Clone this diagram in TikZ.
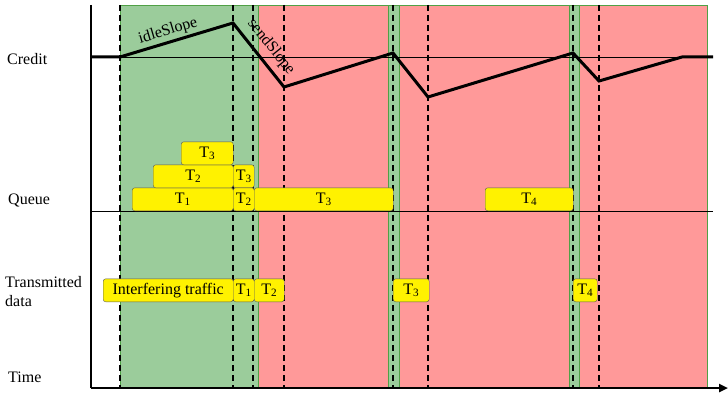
\documentclass[tikz,border=0pt]{standalone}
\usepackage{xcolor}
\usepackage{fontspec}
\setmainfont{Liberation Serif}
\usetikzlibrary{
    arrows.meta
}
\definecolor{idlegreen}{RGB}{155,204,155}
\definecolor{sendred}{RGB}{255,153,153}
\definecolor{winedge}{RGB}{80,160,70}
\tikzset{
    pkt/.style={draw=black!65,fill=yellow,rounded corners=2.5pt,anchor=south west,
        inner sep=0pt,minimum height=23pt},
    idlewin/.style={fill=idlegreen,draw=winedge,line width=0.8pt},
    sendwin/.style={fill=sendred,draw=winedge,line width=0.8pt},
    tick/.style={line width=2.3pt,dash pattern=on 6pt off 4pt},
    lbl/.style={anchor=base west,inner sep=0pt}
}

\begin{document}
\begin{tikzpicture}[x=1pt,y=-1pt,font=\fontsize{16}{19}\selectfont]
        \useasboundingbox (0,0) rectangle (728,396);

        \draw[idlewin] (120,5) rectangle (258,388);
        \draw[sendwin] (258,5) rectangle (388,388);
        \draw[idlewin] (388,5) rectangle (399,388);
        \draw[sendwin] (399,5) rectangle (569,388);
        \draw[idlewin] (569,5) rectangle (579,388);
        \draw[sendwin] (579,5) rectangle (707,388);

        \draw[thin] (91,57) -- (713,57);
        \draw[thin] (91,211) -- (713,211);

        \foreach \x in {120,233,253,284,393,428,573,599}
            \draw[tick] (\x,5) -- (\x,388);

        % credit
        \draw[line width=3pt] (91,57) -- (120,57) -- (233,23) -- (284,87) -- (393,53)
            -- (428,97) -- (573,53) -- (599,81) -- (682,57) -- (713,57);
        \draw (168,31) node[rotate=16.5](idle){idleSlope};
        \draw (271,47) node[rotate=-51](send){sendSlope};

        \draw (7,64)  node[lbl](credit){Credit};
        \draw (8,204) node[lbl](queue){Queue};
        \draw (5,292) node[anchor=west,inner sep=0pt,align=left](txd){Transmitted\\data};
        \draw (8,382) node[lbl](time){Time};

        % queue
        \draw (132,211) node[pkt,minimum width=101pt](qa){T\textsubscript{1}};
        \draw (153,188) node[pkt,minimum width=80pt](qb){T\textsubscript{2}};
        \draw (181,165) node[pkt,minimum width=52pt](qc){T\textsubscript{3}};
        \draw (233,188) node[pkt,minimum width=21pt](qd){T\textsubscript{3}};
        \draw (233,211) node[pkt,minimum width=21pt](qe){T\textsubscript{2}};
        \draw (254,211) node[pkt,minimum width=139pt](qf){T\textsubscript{3}};
        \draw (485,211) node[pkt,minimum width=88pt](qg){T\textsubscript{4}};

        % transmitted
        \draw (103,302) node[pkt,minimum width=130pt](ta){Interfering traffic};
        \draw (233,302) node[pkt,minimum width=21pt](tb){T\textsubscript{1}};
        \draw (254,302) node[pkt,minimum width=30pt](tc){T\textsubscript{2}};
        \draw (393,302) node[pkt,minimum width=36pt](td){T\textsubscript{3}};
        \draw (573,302) node[pkt,minimum width=24pt](te){T\textsubscript{4}};

        \coordinate (o) at (91,388);
        \coordinate (top) at (91,5);
        \coordinate (end) at (728,388);
        \draw[line width=2.5pt] (top) -- (o);
        \draw[line width=2.5pt,-{Triangle[length=9pt,width=8pt]}] (o) -- (end);
    \end{tikzpicture}
\end{document}
